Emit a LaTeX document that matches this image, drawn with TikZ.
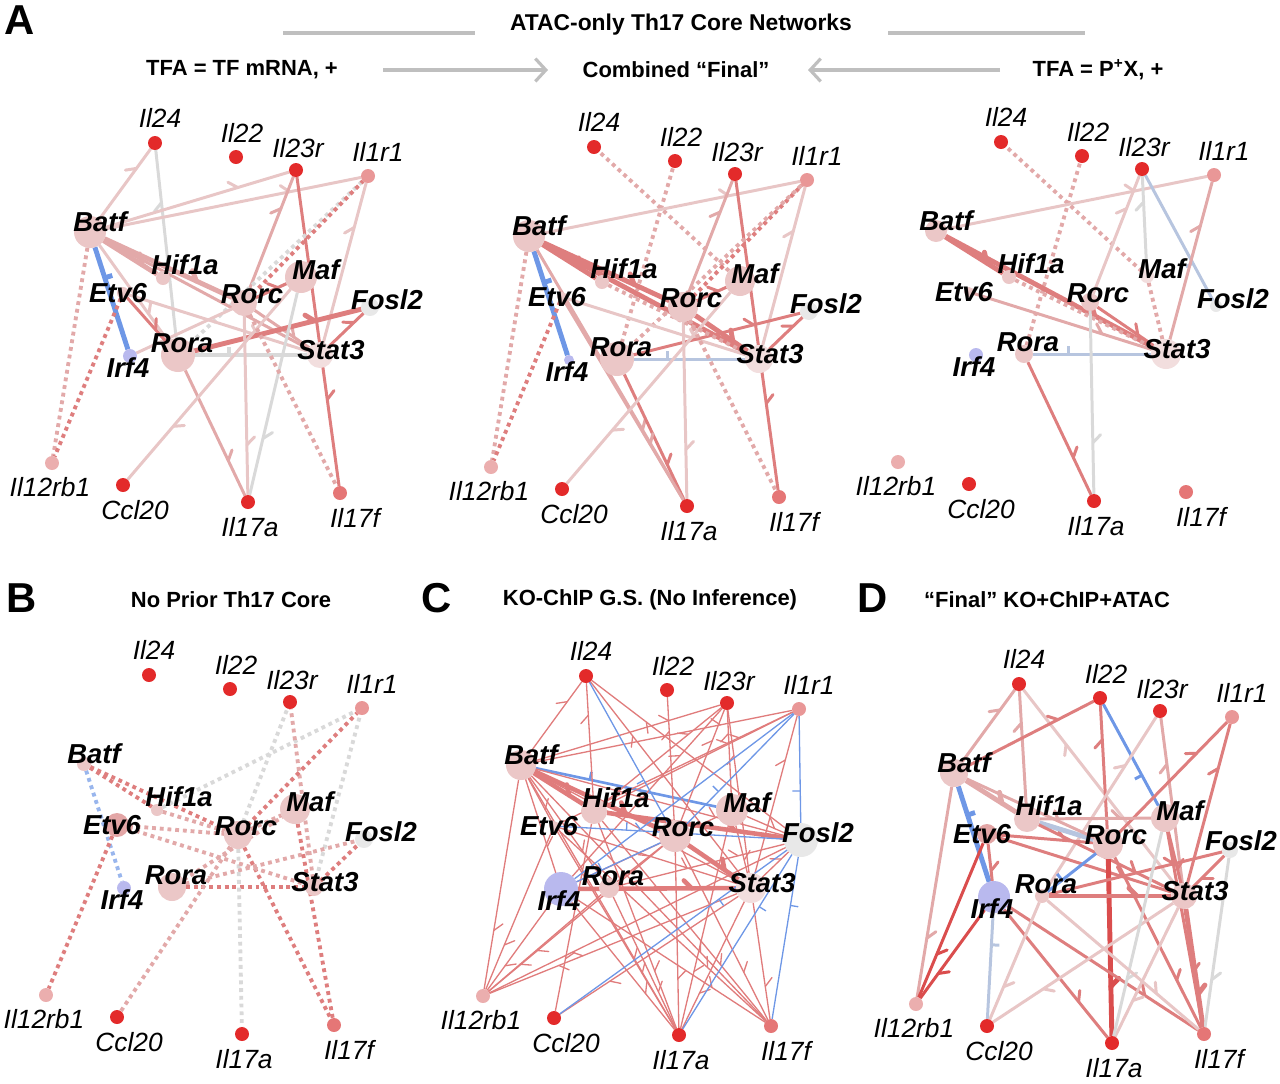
\documentclass[tikz,border=0pt]{standalone}
\usepackage{fontspec}
\setmainfont{Liberation Sans}
\usetikzlibrary{decorations.markings}
\usetikzlibrary{arrows.meta}

\pgfdeclarelayer{edges}
\pgfsetlayers{edges,main}

% edge colours
\definecolor{e1}{HTML}{E8C6C6}
\definecolor{e2}{HTML}{E2A9A9}
\definecolor{e3}{HTML}{DE7E7E}
\definecolor{e4}{HTML}{DA4D4D}
\definecolor{eC}{HTML}{E07C7C}
\definecolor{eg}{HTML}{D9D9D9}
\definecolor{eb}{HTML}{6E97E6}
\definecolor{el}{HTML}{B7C5DF}
% node colours
\definecolor{tf0}{HTML}{EBC7C7}
\definecolor{tf1}{HTML}{E8E8E8}
\definecolor{tf2}{HTML}{B9B9EE}
\definecolor{tf3}{HTML}{E3A6A6}
\definecolor{tf4}{HTML}{F2DEDE}
\definecolor{gn0}{HTML}{E32A2A}
\definecolor{gn1}{HTML}{E99797}
\definecolor{gn2}{HTML}{EBAEAE}
\definecolor{gn3}{HTML}{E57676}
\definecolor{rulegray}{HTML}{BFBFBF}

\tikzset{
  act/.style={postaction={decorate,decoration={markings,
    mark=at position 0.72 with {\draw[solid,line cap=round] (0,0) -- (-4.5pt,4.5pt);}}}},
  inh/.style={postaction={decorate,decoration={markings,
    mark=at position 0.3 with {\draw[solid,line cap=butt] (0,0) -- (0,4.5pt);}}}},
  dotline/.style={line width=2.2pt,dash pattern=on 2.2pt off 2.2pt},
  pA/.style={color=e1,line width=1.7pt,act},
  pB/.style={color=e2,line width=1.7pt,act},
  pC/.style={color=e3,line width=1.7pt,act},
  pD/.style={color=e4,line width=1.7pt,act},
  pBt/.style={color=e2,line width=2.8pt,act},
  pCt/.style={color=e3,line width=2.8pt,act},
  pDt/.style={color=e4,line width=2.8pt,act},
  gA/.style={color=eg,line width=1.7pt,act},
  gI/.style={color=eg,line width=2.2pt,inh},
  bI/.style={color=eb,line width=2.8pt,inh},
  bIm/.style={color=eb,line width=1.7pt,inh},
  lI/.style={color=el,line width=1.7pt,inh},
  lIt/.style={color=el,line width=2.8pt},
  dP/.style={color=e2,dotline},
  dR/.style={color=e3,dotline},
  dG/.style={color=eg,dotline},
  dB/.style={color=eb!70,dotline},
  tR/.style={color=eC,line width=0.75pt,act},
  tB/.style={color=eb,line width=0.75pt,inh},
  TR/.style={color=eC,line width=2.6pt,act},
  mB/.style={color=eb,line width=1.5pt,inh},
  gene/.style={circle,inner sep=0pt,outer sep=0pt,minimum size=0.28cm},
  tf/.style={circle,inner sep=0pt,outer sep=0pt},
  glabel/.style={inner sep=0pt,font=\fontsize{15}{16}\selectfont\itshape},
  tflabel/.style={inner sep=0pt,font=\fontsize{15.6}{17}\selectfont\bfseries\itshape},
  head/.style={inner sep=0pt,font=\fontsize{12.5}{14}\selectfont\bfseries},
  letter/.style={inner sep=0pt,font=\fontsize{23.8}{26}\selectfont\bfseries},
}

% name/x/y/colour/label dx/label dy
\def\genedata{Il24/155/143/0/5/-25,Il22/236/157/0/6/-24,Il23r/296/170/0/2/-22,Il1r1/368/176/1/10/-24,Il12rb1/52/463/2/-2/24,Ccl20/123/485/0/12/25,Il17a/248/502/0/2/25,Il17f/340/493/3/15/25}
% name/x/y/label dx/label dy
\def\tfdata{Batf/90/232/10/-10,Hif1a/163/278/22/-13,Etv6/123/293/-5/0,Rorc/244/303/8/-9,Maf/301/277/15/-7,Fosl2/370/307/17/-7,Rora/178/355/4/-12,Stat3/320/355/11/-5,Irf4/130/356/-2/12}
\def\tfdataD{Batf/90/232/10/-10,Hif1a/163/278/22/-13,Etv6/123/293/-5/0,Rorc/244/303/8/-9,Maf/301/277/15/-7,Fosl2/366/309/11/-9,Rora/178/355/4/-12,Stat3/320/355/11/-5,Irf4/130/356/-2/12}

% [TF data] prefix, dx, dy, TF radii, TF colours
\newcommand{\netnodes}[6][\tfdata]{%
  \begin{scope}[shift={(#3,#4)}]
    \foreach \g/\x/\y/\c/\lx/\ly in \genedata
      \node[gene,fill=gn\c] (#2\g) at (\x,\y) {};
    \foreach \n/\x/\y/\lx/\ly [count=\i from 0] in #1 {
      \pgfmathsetmacro\r{{#5}[\i]}
      \pgfmathtruncatemacro\k{{#6}[\i]}
      \node[tf,minimum size=\r*0.04cm,fill=tf\k] (#2\n) at (\x,\y) {};
    }
    \foreach \g/\x/\y/\c/\lx/\ly in \genedata
      \node[glabel] at (\x+\lx,\y+\ly) {\g};
    \foreach \n/\x/\y/\lx/\ly in #1
      \node[tflabel] at (\x+\lx,\y+\ly) {\n};
  \end{scope}}

% prefix, edges from/to/style
\newcommand{\netedges}[2]{%
  \begin{pgfonlayer}{edges}
    \foreach \a/\b/\s in {#2}
      \draw[\s] (#1\a) -- (#1\b);
  \end{pgfonlayer}}

\begin{document}
\begin{tikzpicture}[x=0.02cm,y=-0.02cm]
\useasboundingbox (0,0) rectangle (1280,1083);

% headings
\node[letter] (la) at (20,20) {A};
\node[letter] (lb) at (22,598) {B};
\node[letter] (lc) at (437,598) {C};
\node[letter] (ld) at (873,598) {D};
\node[head,font=\fontsize{13}{15}\selectfont\bfseries] (ttl) at (681,25) {ATAC-only Th17 Core Networks};
\coordinate (r1a) at (283,33);
\coordinate (r1b) at (475,33);
\coordinate (r2a) at (888,33);
\coordinate (r2b) at (1085,33);
\draw[rulegray,line width=2.2pt] (r1a) -- (r1b);
\draw[rulegray,line width=2.2pt] (r2a) -- (r2b);
\node[head] (mrna) at (242,70) {TFA = TF mRNA, +};
\node[head] (comb) at (676,70) {Combined “Final”};
\node[head] (ppx) at (1098,70) {TFA = P\textsuperscript{+}X, +};
\coordinate (ar1a) at (383,70);
\coordinate (ar1b) at (548,70);
\coordinate (ar2a) at (1000,70);
\coordinate (ar2b) at (808,70);
\draw[rulegray,line width=1.8pt,-{Straight Barb[length=6pt,width=13pt]}] (ar1a) -- (ar1b);
\draw[rulegray,line width=1.8pt,-{Straight Barb[length=6pt,width=13pt]}] (ar2a) -- (ar2b);
\node[head] (hb) at (231,600) {No Prior Th17 Core};
\node[head] (hc) at (650,600) {KO-ChIP G.S. (No Inference)};
\node[head] (hd) at (1047,600) {“Final” KO+ChIP+ATAC};

% A, TF mRNA
\netnodes{a}{0}{0}{16,7,6,13,16,9,17,13,7}{0,0,0,0,0,1,0,4,2}
\netedges{a}{Batf/Il24/pA,Rora/Il24/gA,Batf/Il23r/pA,Batf/Il1r1/pA,Rorc/Il23r/pB,
  Il23r/Il17f/pC,Stat3/Il1r1/pA,Rora/Il1r1/dG,Rorc/Il1r1/dR,Batf/Irf4/bI,
  Batf/Il12rb1/dP,Etv6/Il12rb1/dR,Batf/Hif1a/pBt,Batf/Rorc/pBt,Batf/Stat3/pB,
  Batf/Rora/pA,Rora/Il17a/pB,Etv6/Stat3/pA,Rorc/Stat3/pB,Rora/Fosl2/pCt,
  Rora/Stat3/gI,Irf4/Maf/pA,Maf/Ccl20/pA,Rorc/Il17a/pA,Maf/Il17a/gA,
  Rorc/Il17f/dP,Stat3/Fosl2/pC,Rorc/Maf/pC,Etv6/Rora/pC}

% A, combined
\netnodes{m}{439}{4}{16,7,5,15,15,9,17,14,5}{0,0,0,0,0,1,0,4,2}
\netedges{m}{Maf/Il24/dP,Rora/Il22/dP,Batf/Il1r1/pA,Rorc/Il23r/pB,Il23r/Il17f/pC,
  Stat3/Il1r1/pA,Rorc/Il1r1/dR,Rora/Il1r1/dP,Batf/Irf4/bI,Batf/Il12rb1/dP,
  Etv6/Il12rb1/dR,Batf/Hif1a/pCt,Batf/Rorc/pCt,Batf/Stat3/pCt,Batf/Il17a/pB,
  Rora/Il17a/pC,Etv6/Il17a/pB,Etv6/Stat3/pA,Rorc/Stat3/pCt,Rora/Fosl2/pC,
  Rora/Stat3/lI,Maf/Ccl20/pA,Rorc/Il17a/pA,Rorc/Il17f/dP,Stat3/Fosl2/pC,
  Rorc/Maf/pC,Hif1a/Stat3/dP}

% A, P+X
\netnodes{p}{846}{-1}{11,7,5,9,7,6,9,15,7}{0,0,0,0,4,1,0,4,2}
\netedges{p}{Maf/Il24/dP,Rora/Il22/dP,Batf/Il1r1/pA,Rorc/Il23r/pA,Maf/Il23r/gA,
  Fosl2/Il23r/lI,Stat3/Il1r1/pB,Batf/Hif1a/pCt,Batf/Stat3/pCt,Rorc/Stat3/pC,
  Etv6/Stat3/pB,Hif1a/Stat3/dP,Maf/Stat3/dP,Rora/Stat3/lI,Rora/Il17a/pC,
  Rorc/Il17a/gA}

% B
\netnodes{b}{-6}{532}{7,6,12,14,15,9,14,9,7}{0,0,3,0,0,1,0,0,2}
\netedges{b}{Batf/Irf4/dB,Batf/Rorc/dR,Batf/Hif1a/dR,Hif1a/Il1r1/dG,Hif1a/Rorc/dP,
  Etv6/Rorc/dP,Etv6/Il12rb1/dR,Rorc/Il23r/dG,Stat3/Il23r/dP,Rorc/Il1r1/dR,
  Stat3/Il1r1/dG,Rora/Fosl2/dP,Rora/Stat3/dR,Rorc/Il17f/dR,Maf/Il17f/dR,
  Rorc/Ccl20/dP,Rorc/Il17a/dG,Rora/Maf/dP,Stat3/Fosl2/dR,Rorc/Maf/dP,
  Etv6/Stat3/dP}

% C
\netnodes{c}{431}{533}{15,13,5,16,16,17,10,15,17}{0,0,0,0,0,1,0,4,2}
\netedges{c}{Batf/Hif1a/TR,Batf/Rorc/TR,Hif1a/Fosl2/TR,Rorc/Stat3/TR,Irf4/Stat3/TR,
  Batf/Maf/mB,Batf/Il24/tR,Hif1a/Il24/tR,Stat3/Il24/tR,Fosl2/Il24/tR,Rorc/Il22/tR,
  Batf/Il23r/tR,Hif1a/Il23r/tR,Rorc/Il23r/tR,Stat3/Il23r/tR,Irf4/Il23r/tR,
  Maf/Il23r/tR,Batf/Il1r1/tR,Hif1a/Il1r1/tR,Stat3/Il1r1/tR,Etv6/Il1r1/tR,
  Batf/Il12rb1/tR,Etv6/Il12rb1/tR,Irf4/Il12rb1/tR,Rora/Il12rb1/tR,
  Rorc/Il12rb1/tR,Stat3/Il12rb1/tR,Fosl2/Il12rb1/tR,Hif1a/Ccl20/tR,
  Stat3/Ccl20/tR,Batf/Il17a/tR,Etv6/Il17a/tR,Irf4/Il17a/tR,Hif1a/Il17a/tR,
  Rorc/Il17a/tR,Maf/Il17a/tR,Stat3/Il17a/tR,Rora/Il17a/tR,Batf/Il17f/tR,
  Irf4/Il17f/tR,Hif1a/Il17f/tR,Rorc/Il17f/tR,Stat3/Il17f/tR,Etv6/Il17f/tR,
  Batf/Etv6/tR,Batf/Irf4/tR,Batf/Rora/tR,Batf/Stat3/tR,Batf/Fosl2/tR,
  Rora/Rorc/tR,Maf/Stat3/tR,Maf/Fosl2/tR,Irf4/Maf/tR,Rora/Fosl2/tR,
  Stat3/Fosl2/tR,Etv6/Stat3/tR,Rorc/Il24/tB,Rorc/Il1r1/tB,Irf4/Il1r1/tB,
  Fosl2/Il1r1/tB,Fosl2/Ccl20/tB,Fosl2/Il17a/tB,Fosl2/Il17f/tB,Etv6/Fosl2/tB,
  Irf4/Rorc/tB}

% D
\netnodes[\tfdataD]{d}{864}{541}{14,13,10,15,14,8,7,13,16}{0,0,3,0,0,1,0,0,2}
\netedges{d}{Batf/Il24/pB,Hif1a/Il24/pB,Stat3/Il24/pA,Batf/Il22/pC,Maf/Il22/bIm,
  Rorc/Il22/pC,Rora/Il23r/pA,Stat3/Il23r/pB,Rorc/Il1r1/pC,Stat3/Il1r1/pC,
  Batf/Irf4/bI,Batf/Il12rb1/pB,Etv6/Il12rb1/pD,Irf4/Il12rb1/pD,Etv6/Stat3/pC,
  Etv6/Rorc/pC,Hif1a/Rorc/lIt,Batf/Hif1a/pBt,Batf/Rorc/pB,Hif1a/Maf/pB,
  Hif1a/Stat3/pC,Rorc/Il17a/pDt,Rorc/Il17f/pC,Rora/Rorc/bIm,Rora/Stat3/pCt,
  Rora/Fosl2/pC,Irf4/Ccl20/lI,Irf4/Il17a/pC,Irf4/Il17f/pC,Stat3/Il17f/pCt,
  Stat3/Ccl20/pA,Stat3/Il17a/pA,Fosl2/Il17f/gA,Fosl2/Stat3/pC,Maf/Il17a/gA,
  Maf/Stat3/pC,Rora/Il17f/pA,Rora/Ccl20/pA,Etv6/Irf4/pC,Maf/Il17f/pC}
\end{tikzpicture}
\end{document}
